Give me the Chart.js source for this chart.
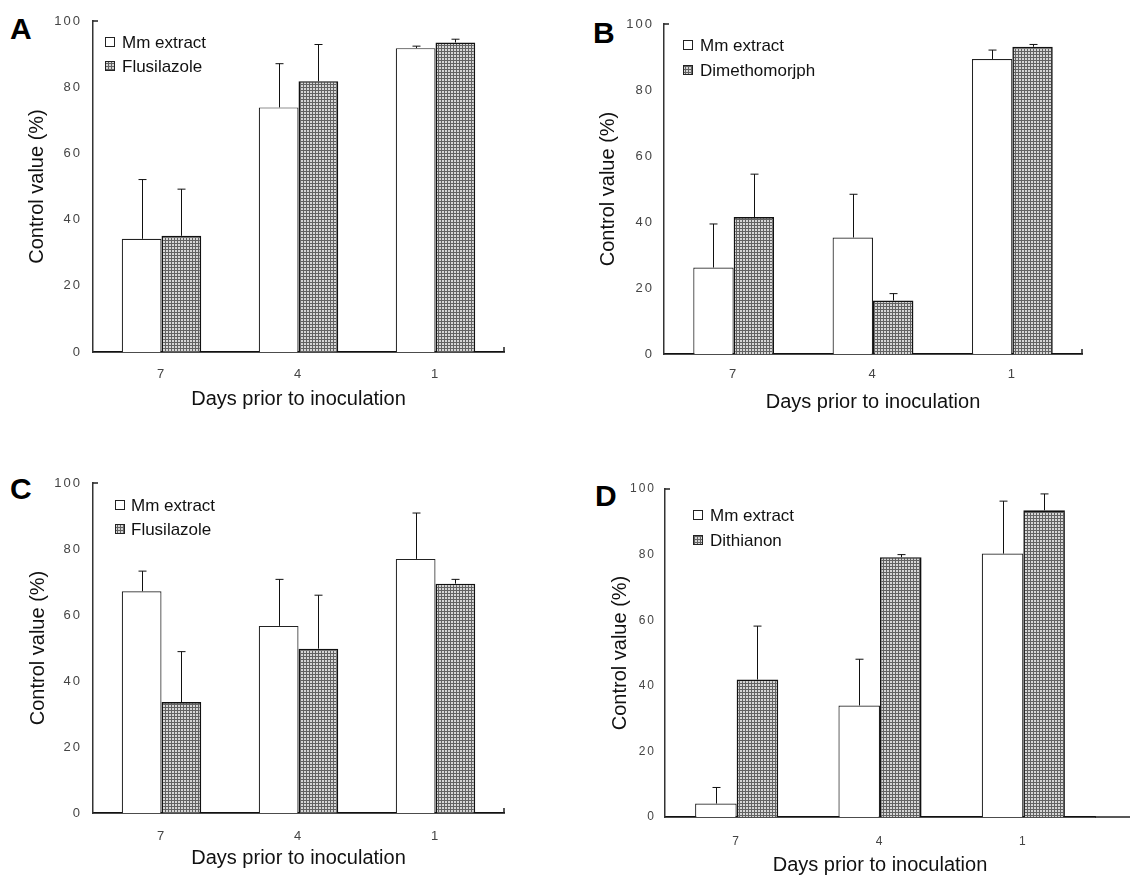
<!DOCTYPE html>
<html>
<head>
<meta charset="utf-8">
<script src="https://cdn.jsdelivr.net/npm/chart.js@4/dist/chart.umd.min.js"></script>
<style>
  html, body { margin: 0; padding: 0; background: #fff; overflow: hidden; }
  #page { position: relative; width: 1130px; height: 879px; overflow: hidden; }
  canvas { position: absolute; }
  .tag { position: absolute; font: bold 30px "Liberation Sans", Arial, sans-serif; line-height: 30px; color: #000; }
</style>
</head>
<body>
<div id="page">
  <div class="tag" style="left:10px;top:14px">A</div>
  <div class="tag" style="left:593px;top:18px">B</div>
  <div class="tag" style="left:10px;top:474px">C</div>
  <div class="tag" style="left:595px;top:481px">D</div>
  <canvas id="chartA" width="565" height="440" style="left:0;top:0"></canvas>
  <canvas id="chartB" width="565" height="440" style="left:565px;top:0"></canvas>
  <canvas id="chartC" width="565" height="439" style="left:0;top:440px"></canvas>
  <canvas id="chartD" width="565" height="439" style="left:565px;top:440px"></canvas>
</div>
<script>
// days before inoculation (x categories)
const days = ['7', '4', '1'];
const yMax = 100;
const yStep = 20;

// panel A
const mmA = [34.2, 73.9, 91.8];
const mmAErr = [17.9, 13.2, 0.6];
const fluA = [35.1, 81.8, 93.5];
const fluAErr = [14.1, 11.1, 1.0];

// panel B
const mmB = [26.2, 35.3, 89.4];
const mmBErr = [13.2, 13.1, 2.7];
const dimB = [41.5, 16.2, 93.1];
const dimBErr = [13.0, 2.1, 0.7];

// panel C
const mmC = [67.2, 56.7, 77.0];
const mmCErr = [6.1, 14.1, 13.9];
const fluC = [33.6, 49.8, 69.5];
const fluCErr = [15.3, 16.2, 1.3];

// panel D
const mmD = [4.1, 34.0, 80.3];
const mmDErr = [4.9, 14.1, 16.0];
const ditD = [41.9, 79.2, 93.5];
const ditDErr = [16.3, 0.8, 5.0];

const FONT = '"Liberation Sans", Arial, sans-serif';
const TICK_SPACING = '2px';

// fine crosshatch like the printed grey fill
function makeHatch() {
    const c = document.createElement('canvas');
    c.width = 3; c.height = 3;
    const g = c.getContext('2d');
    g.fillStyle = '#d6d6d6';
    g.fillRect(0, 0, 3, 3);
    g.fillStyle = '#626262';
    g.fillRect(0, 0, 3, 1);
    g.fillRect(0, 0, 1, 3);
    return g.createPattern(c, 'repeat');
}
const hatch = makeHatch();

// upward error bars with a small cap
const errorBars = {
    id: 'errorBars',
    afterDatasetsDraw(chart) {
        const ctx = chart.ctx;
        const y = chart.scales.y;
        ctx.save();
        ctx.strokeStyle = '#111';
        ctx.lineWidth = 1;
        chart.data.datasets.forEach((ds, i) => {
            chart.getDatasetMeta(i).data.forEach((bar, j) => {
                const top = y.getPixelForValue(ds.data[j] + ds.errors[j]);
                const x = Math.round(bar.x) + 0.5;
                ctx.beginPath();
                ctx.moveTo(x, bar.y);
                ctx.lineTo(x, top);
                ctx.moveTo(x - 4, top);
                ctx.lineTo(x + 4, top);
                ctx.stroke();
            });
        });
        ctx.restore();
        // tick labels are drawn next (z = 1); the scan has widely spaced digits
        ctx.letterSpacing = TICK_SPACING;
    }
};

// legend sitting inside the plot, top left
const innerLegend = {
    id: 'innerLegend',
    afterDraw(chart, args, opts) {
        const ctx = chart.ctx;
        const area = chart.chartArea;
        ctx.letterSpacing = '0px';
        ctx.save();
        ctx.font = '17px ' + FONT;
        ctx.textBaseline = 'middle';
        chart.data.datasets.forEach((ds, i) => {
            const cy = area.top + opts.rows[i];
            const bx = area.left + opts.boxX;
            ctx.fillStyle = ds.backgroundColor;
            ctx.fillRect(bx, cy - 5, 10, 10);
            ctx.strokeStyle = '#222';
            ctx.lineWidth = 1;
            ctx.strokeRect(bx + 0.5, cy - 4.5, 9, 9);
            ctx.fillStyle = '#111';
            ctx.fillText(ds.label, area.left + opts.textX, cy + 1);
        });
        // little hooks at the axis ends, and the run-out of the base line
        ctx.strokeStyle = '#222';
        ctx.lineWidth = 1.5;
        ctx.beginPath();
        ctx.moveTo(area.left, area.top);
        ctx.lineTo(area.left + 5, area.top);
        if (opts.extendBase) {
            ctx.moveTo(area.right, area.bottom);
            ctx.lineTo(chart.width, area.bottom);
        } else {
            ctx.moveTo(area.right, area.bottom);
            ctx.lineTo(area.right, area.bottom - 5);
        }
        ctx.stroke();
        ctx.restore();
    }
};

function makePanel(id, p) {
    const canvas = document.getElementById(id);
    const H = canvas.height;
    const W = canvas.width;
    const titleLh = 24;
    const xAxisH = p.xTitleOffset + titleLh / 2;
    const padLeft = p.yTitleX - titleLh / 2;

    new Chart(canvas, {
        type: 'bar',
        data: {
            labels: days,
            datasets: [
                {
                    label: 'Mm extract',
                    data: p.mm,
                    errors: p.mmErr,
                    backgroundColor: '#ffffff',
                    borderColor: '#222',
                    borderWidth: 1.2
                },
                {
                    label: p.drug,
                    data: p.drugVals,
                    errors: p.drugErr,
                    backgroundColor: hatch,
                    borderColor: '#111',
                    borderWidth: 1.6
                }
            ]
        },
        options: {
            responsive: false,
            animation: false,
            devicePixelRatio: 1,
            categoryPercentage: 0.58,
            barPercentage: 1,
            layout: {
                padding: {
                    left: padLeft,
                    top: p.area.top,
                    right: W - p.area.right,
                    bottom: H - p.area.bottom - xAxisH
                }
            },
            plugins: {
                legend: { display: false },
                tooltip: { enabled: false },
                innerLegend: p.legend
            },
            scales: {
                x: {
                    offset: true,
                    grid: { display: false, drawTicks: false },
                    border: { display: true, color: '#111', width: 1.8 },
                    ticks: { z: 1, padding: p.xTickPad, color: '#444', font: { family: FONT, size: p.tickSize } },
                    title: {
                        display: true,
                        text: 'Days prior to inoculation',
                        color: '#111',
                        font: { family: FONT, size: 20 },
                        padding: 0
                    },
                    afterFit: (scale) => { scale.height = xAxisH; }
                },
                y: {
                    min: 0,
                    max: yMax,
                    grid: { display: false, drawTicks: false },
                    border: { display: true, color: '#333', width: 1.5 },
                    ticks: { z: 1, stepSize: yStep, padding: p.yTickPad, color: '#444', font: { family: FONT, size: p.tickSize } },
                    title: {
                        display: true,
                        text: 'Control value (%)',
                        color: '#111',
                        font: { family: FONT, size: 20 },
                        padding: 0
                    },
                    afterFit: (scale) => { scale.width = p.area.left - padLeft; }
                }
            }
        },
        plugins: [errorBars, innerLegend]
    });
}

makePanel('chartA', {
    mm: mmA, mmErr: mmAErr, drug: 'Flusilazole', drugVals: fluA, drugErr: fluAErr,
    area: { left: 93, right: 504, top: 21, bottom: 352 },
    yTitleX: 37, xTitleOffset: 47, xTickPad: 15, yTickPad: 11, tickSize: 13,
    legend: { boxX: 12, textX: 29, rows: [21, 45] }
});
makePanel('chartB', {
    mm: mmB, mmErr: mmBErr, drug: 'Dimethomorjph', drugVals: dimB, drugErr: dimBErr,
    area: { left: 99, right: 517, top: 24, bottom: 354 },
    yTitleX: 43, xTitleOffset: 48, xTickPad: 13, yTickPad: 10, tickSize: 13,
    legend: { boxX: 19, textX: 36, rows: [21, 46] }
});
makePanel('chartC', {
    mm: mmC, mmErr: mmCErr, drug: 'Flusilazole', drugVals: fluC, drugErr: fluCErr,
    area: { left: 93, right: 504, top: 43, bottom: 373 },
    yTitleX: 38, xTitleOffset: 45, xTickPad: 16, yTickPad: 11, tickSize: 13,
    legend: { boxX: 22, textX: 38, rows: [22, 46] }
});
makePanel('chartD', {
    mm: mmD, mmErr: mmDErr, drug: 'Dithianon', drugVals: ditD, drugErr: ditDErr,
    area: { left: 100, right: 530, top: 49, bottom: 377 },
    yTitleX: 55, xTitleOffset: 48, xTickPad: 17, yTickPad: 9, tickSize: 12,
    legend: { boxX: 28, textX: 45, rows: [26, 51], extendBase: true }
});
</script>
</body>
</html>
